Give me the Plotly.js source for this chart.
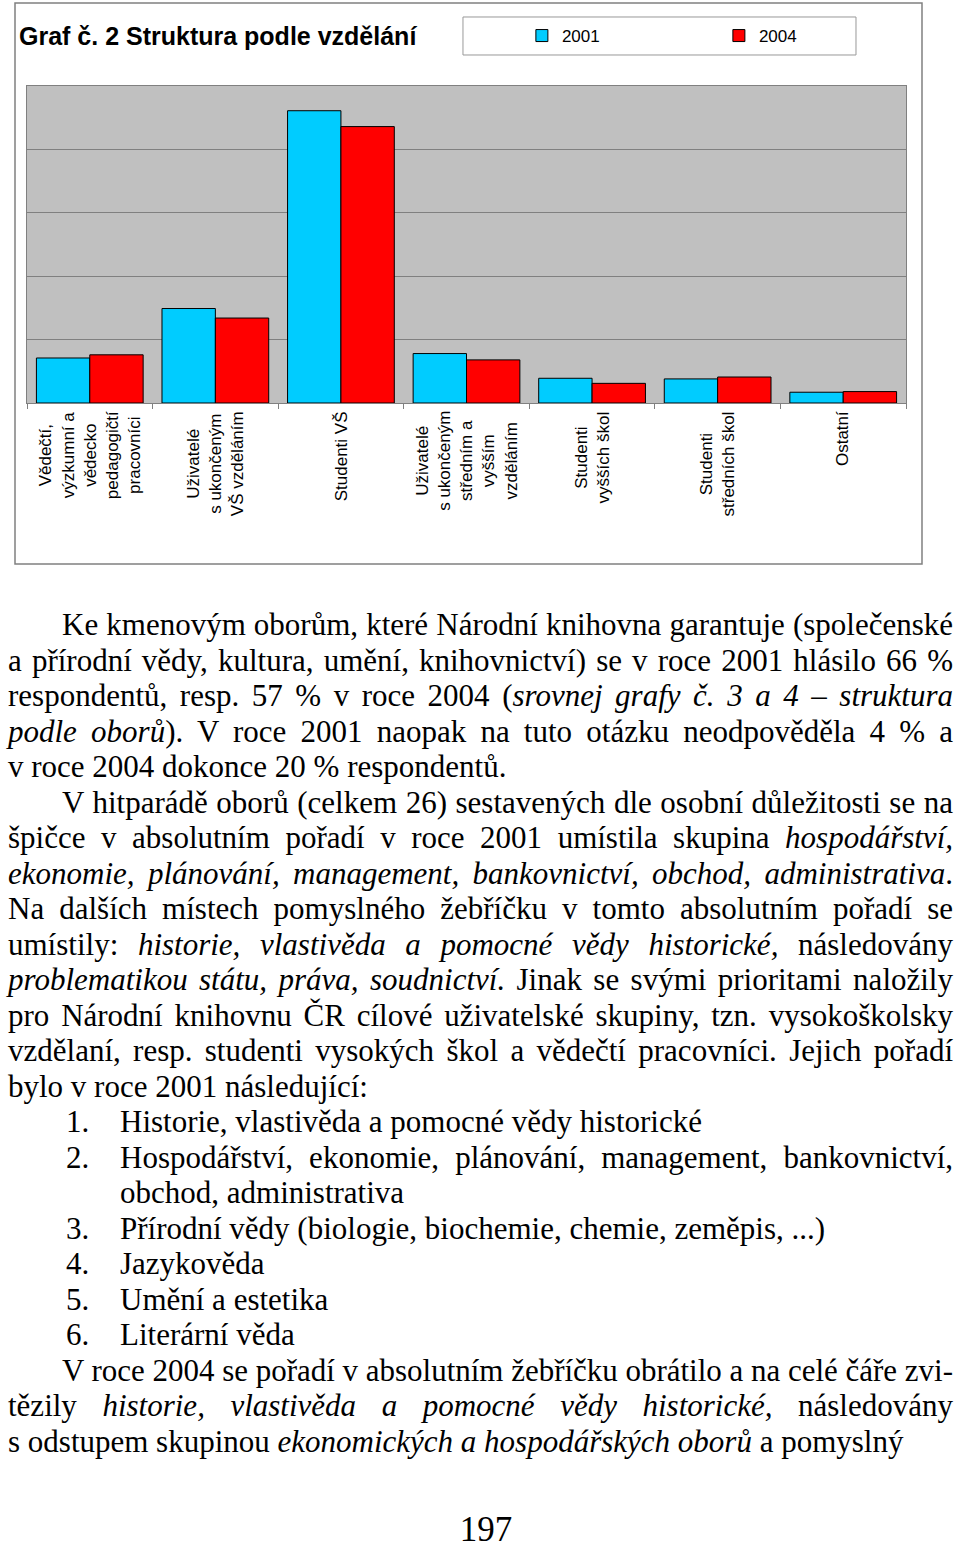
<!DOCTYPE html>
<html lang="cs">
<head>
<meta charset="utf-8">
<script src="https://cdn.plot.ly/plotly-3.0.1.min.js"></script>
<style>
  html, body { margin: 0; padding: 0; background: #ffffff; }
  body { width: 960px; height: 1547px; position: relative; overflow: hidden; }
  #chart { position: absolute; left: 0; top: 0; width: 960px; height: 570px; }
  .ln { position: absolute; white-space: nowrap; font-family: "Liberation Serif", "Times New Roman", serif;
        font-size: 31px; line-height: 35.5px; color: #000; transform-origin: 0 0; }
  .ln span { display: inline-block; }
  #page { position: absolute; left: 6px; width: 960px; top: 1510px; text-align: center;
          font-family: "Liberation Serif", "Times New Roman", serif; font-size: 35px; line-height: 40px; color:#000; }
</style>
</head>
<body>
<div id="chart"></div>
<div id="text"></div>
<div id="page">197</div>
<script>
// ---- chart data ----
const categories = ["Vědečtí, výzkumní a vědecko pedagogičtí pracovníci",
  "Uživatelé s ukončeným VŠ vzděláním", "Studenti VŠ",
  "Uživatelé s ukončeným středním a vyšším vzděláním",
  "Studenti vyšších škol", "Studenti středních škol", "Ostatní"];
const tickLabels = ["Vědečtí,<br>výzkumní a<br>vědecko<br>pedagogičtí<br>pracovníci",
  "Uživatelé<br>s ukončeným<br>VŠ vzděláním", "Studenti VŠ",
  "Uživatelé<br>s ukončeným<br>středním a<br>vyšším<br>vzděláním",
  "Studenti<br>vyšších škol", "Studenti<br>středních škol", "Ostatní"];
const seriesNames = ["2001", "2004"];
const values2001 = [7.1, 14.9, 46.1, 7.8, 3.9, 3.8, 1.7];
const values2004 = [7.6, 13.4, 43.6, 6.8, 3.1, 4.1, 1.8];
const chartTitle = "Graf č. 2 Struktura podle vzdělání";

const sans = "Liberation Sans, Arial, sans-serif";
const traces = [
  {type: "bar", name: seriesNames[0], x: categories, y: values2001,
   marker: {color: "#00ccff", line: {color: "#000000", width: 1}}, hoverinfo: "skip"},
  {type: "bar", name: seriesNames[1], x: categories, y: values2004,
   marker: {color: "#ff0000", line: {color: "#000000", width: 1}}, hoverinfo: "skip"}
];
const annotations = categories.map((c, i) => ({
  x: c, xref: "x", y: -0.02, yref: "paper", yanchor: "top", xanchor: "center",
  text: tickLabels[i], textangle: -90, showarrow: false, align: "center",
  font: {family: sans, size: 17, color: "#000"}
}));
const layout = {
  width: 960, height: 570,
  margin: {l: 27, r: 54, t: 86, b: 167, pad: 0},
  paper_bgcolor: "rgba(0,0,0,0)", plot_bgcolor: "#c0c0c0",
  font: {family: sans, color: "#000"},
  title: {text: chartTitle, xref: "container", x: 19/960, xanchor: "left",
          yref: "container", y: 1 - 36/570, yanchor: "middle",
          font: {family: sans, size: 25, weight: "bold", color: "#000"}},
  barmode: "group", bargap: 0.15, bargroupgap: 0,
  xaxis: {type: "category", showgrid: false, showline: true, linecolor: "#808080", linewidth: 1,
          mirror: true, ticks: "outside", tickson: "boundaries", ticklen: 5, tickcolor: "#808080",
          showticklabels: false, fixedrange: true},
  yaxis: {range: [0, 50], dtick: 10, showgrid: true, gridcolor: "#808080", gridwidth: 1,
          showticklabels: false, ticks: "", showline: true, linecolor: "#808080", mirror: true,
          zeroline: false, fixedrange: true},
  showlegend: true,
  legend: {orientation: "h", x: 0.563, xanchor: "left", y: 1.1577, yanchor: "middle",
           entrywidth: 152, entrywidthmode: "pixels", itemwidth: 30,
           bgcolor: "rgba(0,0,0,0)", borderwidth: 0,
           font: {family: sans, size: 17, color: "#000"}},
  shapes: [
    {type: "rect", xref: "paper", yref: "paper", x0: -0.01365, x1: 1.0182, y0: -0.5079, y1: 1.2618,
     line: {color: "#808080", width: 1.5}, fillcolor: "rgba(0,0,0,0)"},
    {type: "rect", xref: "paper", yref: "paper", x0: 0.496, x1: 0.9431, y0: 1.0978, y1: 1.2177,
     line: {color: "#999999", width: 1}, fillcolor: "rgba(0,0,0,0)"}
  ],
  annotations: annotations
};
Plotly.newPlot("chart", traces, layout, {displayModeBar: false, staticPlot: true});

// ---- body text ----
const R = 953;
const bodyLines = [
  [62, 'Ke kmenovým oborům, které Národní knihovna garantuje (společenské', true],
  [8, 'a přírodní vědy, kultura, umění, knihovnictví) se v roce 2001 hlásilo 66 %', true],
  [8, 'respondentů, resp. 57 % v roce 2004 (<i>srovnej grafy č. 3 a 4 – struktura</i>', true],
  [8, '<i>podle oborů</i>). V roce 2001 naopak na tuto otázku neodpověděla 4 % a', true],
  [8, 'v roce 2004 dokonce 20 % respondentů.', false],
  [62, 'V hitparádě oborů (celkem 26) sestavených dle osobní důležitosti se na', true],
  [8, 'špičce v absolutním pořadí v roce 2001 umístila skupina <i>hospodářství,</i>', true],
  [8, '<i>ekonomie, plánování, management, bankovnictví, obchod, administrativa</i>.', true],
  [8, 'Na dalších místech pomyslného žebříčku v tomto absolutním pořadí se', true],
  [8, 'umístily: <i>historie, vlastivěda a pomocné vědy historické,</i> následovány', true],
  [8, '<i>problematikou státu, práva, soudnictví.</i> Jinak se svými prioritami naložily', true],
  [8, 'pro Národní knihovnu ČR cílové uživatelské skupiny, tzn. vysokoškolsky', true],
  [8, 'vzdělaní, resp. studenti vysokých škol a vědečtí pracovníci. Jejich pořadí', true],
  [8, 'bylo v roce 2001 následující:', false],
  [120, 'Historie, vlastivěda a pomocné vědy historické', false, '1.'],
  [120, 'Hospodářství, ekonomie, plánování, management, bankovnictví,', true, '2.'],
  [120, 'obchod, administrativa', false],
  [120, 'Přírodní vědy (biologie, biochemie, chemie, zeměpis, ...)', false, '3.'],
  [120, 'Jazykověda', false, '4.'],
  [120, 'Umění a estetika', false, '5.'],
  [120, 'Literární věda', false, '6.'],
  [62, 'V roce 2004 se pořadí v absolutním žebříčku obrátilo a na celé čáře zvi-', true],
  [8, 'tězily <i>historie, vlastivěda a pomocné vědy historické,</i> následovány', true],
  [8, 's odstupem skupinou <i>ekonomických a hospodářských oborů</i> a pomyslný', false]
];
const textBox = document.getElementById("text");
bodyLines.forEach((ln, i) => {
  const top = 607 + i * 35.5;
  if (ln[3]) {
    const num = document.createElement("div");
    num.className = "ln"; num.style.left = "66px"; num.style.top = top + "px";
    num.textContent = ln[3];
    textBox.appendChild(num);
  }
  const d = document.createElement("div");
  d.className = "ln"; d.style.left = ln[0] + "px"; d.style.top = top + "px";
  const s = document.createElement("span");
  s.innerHTML = ln[1];
  d.appendChild(s);
  textBox.appendChild(d);
  const target = R - ln[0];
  const w = s.getBoundingClientRect().width;
  if (ln[2]) {
    const n = (s.textContent.match(/ /g) || []).length;
    if (w <= target && n > 0) {
      d.style.wordSpacing = ((target - w) / n) + "px";
    } else if (w > target) {
      d.style.transform = "scaleX(" + (target / w) + ")";
    }
  } else if (w > target) {
    d.style.transform = "scaleX(" + (target / w) + ")";
  }
});
</script>
</body>
</html>
